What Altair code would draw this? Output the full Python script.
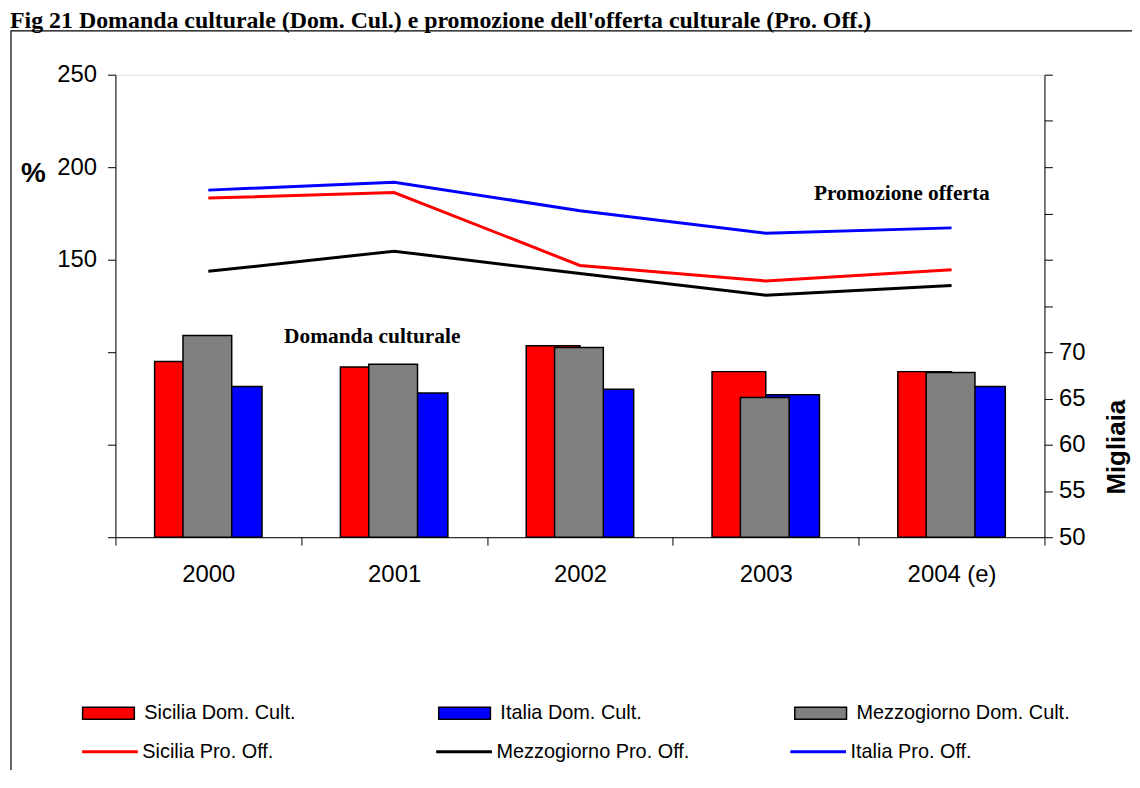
import altair as alt
import pandas as pd

# ---------------- data ----------------
years = ["2000", "2001", "2002", "2003", "2004 (e)"]

# Domanda culturale (migliaia) - right axis
dom_sicilia = [69.0, 68.4, 70.7, 67.9, 67.9]
dom_italia = [66.3, 65.6, 66.0, 65.4, 66.3]
dom_mezzogiorno = [71.8, 68.7, 70.5, 65.1, 67.8]

# Promozione offerta (%) - left axis
pro_sicilia = [183.3, 186.3, 146.9, 138.5, 144.6]
pro_mezzogiorno = [143.7, 154.6, 142.5, 130.8, 136.0]
pro_italia = [187.6, 191.9, 176.5, 164.3, 167.2]

dom_names = ["Sicilia Dom. Cult.", "Italia Dom. Cult.", "Mezzogiorno Dom. Cult."]
pro_names = ["Sicilia Pro. Off.", "Mezzogiorno Pro. Off.", "Italia Pro. Off."]
dom_colors = ["#FF0000", "#0000FF", "#808080"]
pro_colors = ["#FF0000", "#000000", "#0000FF"]

left_ticks = [0, 50, 100, 150, 200, 250]
right_ticks = [50, 55, 60, 65, 70, 75, 80, 85, 90, 95, 100]

title_text = ["Fig 21 Domanda culturale  (Dom. Cul.) e promozione dell'offerta culturale  (Pro. Off.)"]
ann_dom_text = ["Domanda culturale"]
ann_dom_year = ["2001"]
ann_dom_value = [71.6]
ann_pro_text = ["Promozione offerta"]
ann_pro_year = ["2004 (e)"]
ann_pro_value = [185.6]

# ---------------- tables ----------------
dom_df = pd.DataFrame({
    "anno": years * 3,
    "serie": [dom_names[0]] * 5 + [dom_names[1]] * 5 + [dom_names[2]] * 5,
    "valore": dom_sicilia + dom_italia + dom_mezzogiorno,
})
pro_df = pd.DataFrame({
    "anno": years * 3,
    "serie": [pro_names[0]] * 5 + [pro_names[1]] * 5 + [pro_names[2]] * 5,
    "valore": pro_sicilia + pro_mezzogiorno + pro_italia,
})
ann_dom_df = pd.DataFrame({"anno": ann_dom_year, "valore": ann_dom_value, "testo": ann_dom_text})
ann_pro_df = pd.DataFrame({"anno": ann_pro_year, "valore": ann_pro_value, "testo": ann_pro_text})
title_df = pd.DataFrame({"testo": title_text})
frame_df = pd.DataFrame({"k": [0]})

SANS = "Liberation Sans"
SERIF = "Liberation Serif"

# ---------------- encodings ----------------
x_enc = alt.X(
    "anno:N",
    sort=years,
    scale=alt.Scale(domain=years, paddingInner=0, paddingOuter=0),
    axis=alt.Axis(
        title=None, labelFont=SANS, labelFontSize=24, labelColor="black",
        labelAngle=0, labelPadding=18, tickSize=8, tickColor="black",
        domainColor="black", tickBand="extent", grid=False,
    ),
)

y_right = alt.Y(
    "valore:Q",
    scale=alt.Scale(domain=[50, 100], zero=False, nice=False),
    axis=alt.Axis(
        orient="right", values=right_ticks,
        labelExpr="datum.value <= 70 ? datum.label : ''",
        labelFont=SANS, labelFontSize=24, labelColor="black", labelPadding=6,
        tickSize=8, tickColor="black", domainColor="black", grid=False,
        title="Migliaia", titleFont=SANS, titleFontSize=26, titleFontWeight="bold",
        titleColor="black", titleAngle=270, titleX=72, titleY=374,
        titleAlign="center", titleBaseline="middle",
    ),
)

y_left = alt.Y(
    "valore:Q",
    scale=alt.Scale(domain=[0, 250], nice=False),
    axis=alt.Axis(
        orient="left", values=left_ticks,
        labelExpr="datum.value >= 150 ? datum.label : ''",
        labelFont=SANS, labelFontSize=24, labelColor="black", labelPadding=11,
        tickSize=8, tickColor="black", domainColor="black", grid=False,
        title="%", titleFont=SANS, titleFontSize=28, titleFontWeight="bold",
        titleColor="black", titleAngle=0, titleX=-83, titleY=99,
        titleAlign="center", titleBaseline="middle",
    ),
)

fill_enc = alt.Fill(
    "serie:N",
    scale=alt.Scale(domain=dom_names, range=dom_colors),
    legend=alt.Legend(
        title=None, orient="none", legendX=-34, legendY=615,
        direction="horizontal", columns=3, gridAlign="all", columnPadding=78,
        symbolType="M-1,-0.23H1V0.23H-1Z", symbolSize=2704,
        symbolStrokeColor="black", symbolStrokeWidth=1.5, symbolOpacity=1,
        labelFont=SANS, labelFontSize=20, labelColor="black",
        labelOffset=9, labelLimit=400, padding=0,
    ),
)

stroke_enc = alt.Stroke(
    "serie:N",
    scale=alt.Scale(domain=pro_names, range=pro_colors),
    legend=alt.Legend(
        title=None, orient="none", legendX=-35, legendY=651,
        direction="horizontal", columns=3, gridAlign="all", columnPadding=94,
        symbolType="stroke", symbolSize=3136, symbolStrokeWidth=3,
        labelFont=SANS, labelFontSize=20, labelColor="black",
        labelOffset=3, labelLimit=400, padding=0,
    ),
)


def bar_layer(name, size, offset):
    return (
        alt.Chart(dom_df)
        .transform_filter(alt.datum.serie == name)
        .mark_bar(size=size, xOffset=offset, stroke="black", strokeWidth=1.5)
        .encode(x=x_enc, y=y_right, y2=alt.datum(50), fill=fill_enc)
    )


bars = alt.layer(
    bar_layer(dom_names[0], 54, -27),
    bar_layer(dom_names[1], 54, 27),
    bar_layer(dom_names[2], 49, -1),
    alt.Chart(ann_dom_df)
    .mark_text(font=SERIF, fontSize=21.5, fontWeight="bold", color="black", dx=-22)
    .encode(x=x_enc, y=y_right, text="testo:N"),
)

lines = alt.layer(
    alt.Chart(pro_df)
    .mark_line(strokeWidth=3, strokeCap="butt")
    .encode(x=x_enc, y=y_left, stroke=stroke_enc),
    alt.Chart(ann_pro_df)
    .mark_text(font=SERIF, fontSize=21.5, fontWeight="bold", color="black", dx=-50)
    .encode(x=x_enc, y=y_left, text="testo:N"),
)

frame = (
    alt.Chart(frame_df)
    .mark_rect(fill=None, stroke="black", strokeWidth=1.2)
    .encode(x=alt.value(-105), x2=alt.value(1200), y=alt.value(-44), y2=alt.value(900))
)

title = (
    alt.Chart(title_df)
    .mark_text(font=SERIF, fontSize=24, fontWeight="bold", color="black",
               align="left", baseline="alphabetic")
    .encode(x=alt.value(-106), y=alt.value(-47), text="testo:N")
)

chart = (
    alt.layer(frame, bars, lines, title)
    .resolve_scale(y="independent")
    .properties(
        width=934, height=465,
        padding={"left": 108, "top": 65, "right": 88, "bottom": 232},
        autosize=alt.AutoSizeParams(type="none"),
    )
    .configure_view(stroke="#808080", strokeWidth=1)
    .configure(background="white")
)

chart.save("out.html", embed_options={"renderer": "svg", "actions": False})
